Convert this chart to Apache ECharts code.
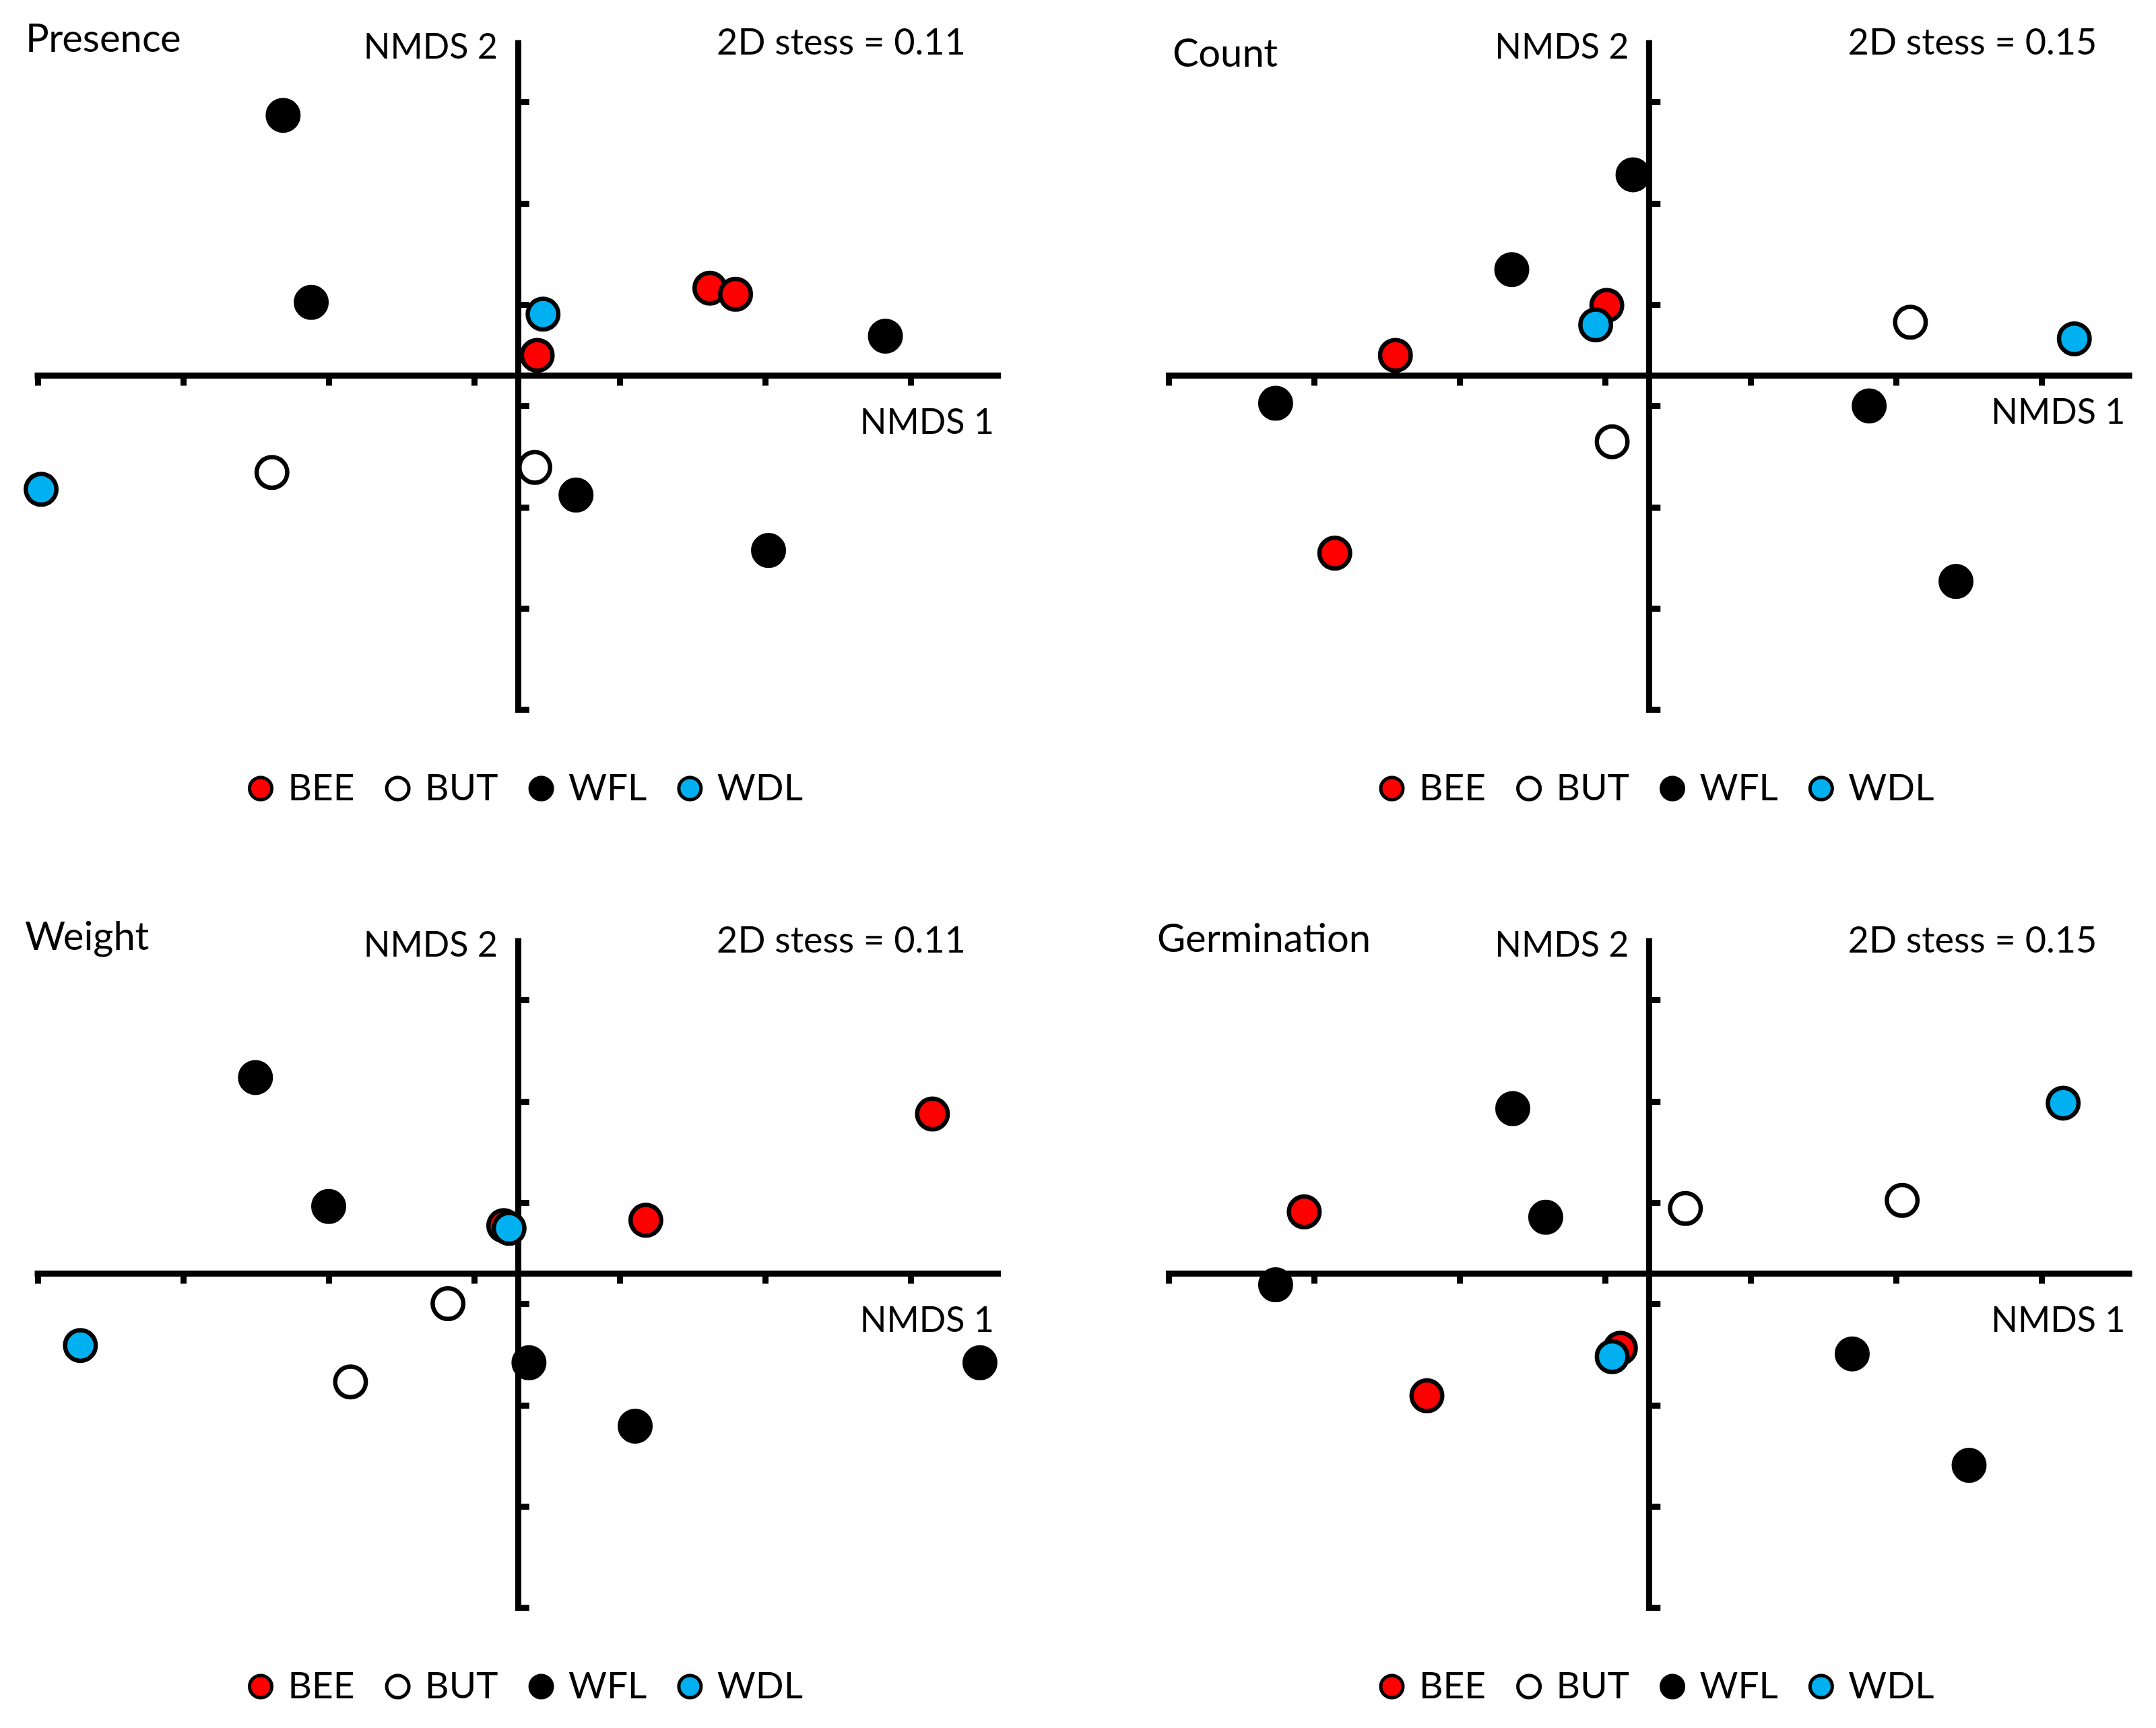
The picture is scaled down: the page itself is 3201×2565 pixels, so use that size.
<!DOCTYPE html>
<html><head><meta charset="utf-8">
<script src="https://cdn.jsdelivr.net/npm/echarts@6/dist/echarts.min.js"></script>
<style>html,body{margin:0;padding:0;background:#fff}#c{width:3201px;height:2565px}</style>
</head><body><div id="c"></div>
<script>
// ---------- data ----------
const groups = ['BEE', 'BUT', 'WFL', 'WDL'];
const panelNames = ['Presence', 'Count', 'Weight', 'Germination'];
const stressLabels = ['2D stess = 0.11', '2D stess = 0.15', '2D stess = 0.11', '2D stess = 0.15'];
const axisNames = ['NMDS 1', 'NMDS 2'];
const xTicks = [-0.99, -0.69, -0.39, -0.09, 0.21, 0.51, 0.81];
const yTicks = [-0.99, -0.69, -0.39, -0.09, 0.21, 0.51, 0.81];

const presenceBEE = [[0.396, 0.259], [0.449, 0.241], [0.040, 0.060]];
const presenceBUT = [[-0.507, -0.287], [0.035, -0.272]];
const presenceWFL = [[-0.484, 0.771], [-0.426, 0.217], [0.758, 0.117], [0.120, -0.354], [0.517, -0.518]];
const presenceWDL = [[-0.983, -0.337], [0.052, 0.182]];

const countBEE = [[-0.087, 0.208], [-0.523, 0.060], [-0.648, -0.526]];
const countBUT = [[0.539, 0.158], [-0.076, -0.196]];
const countWFL = [[-0.033, 0.595], [-0.283, 0.314], [-0.770, -0.082], [0.454, -0.090], [0.633, -0.610]];
const countWDL = [[-0.110, 0.150], [0.877, 0.109]];

const weightBEE = [[-0.029, 0.142], [0.264, 0.158], [0.855, 0.473]];
const weightBUT = [[-0.144, -0.089], [-0.345, -0.321]];
const weightWFL = [[-0.541, 0.581], [-0.390, 0.199], [0.023, -0.264], [0.242, -0.452], [0.953, -0.264]];
const weightWDL = [[-0.902, -0.213], [-0.018, 0.134]];

const germinationBEE = [[-0.711, 0.183], [-0.458, -0.362], [-0.059, -0.221]];
const germinationBUT = [[0.075, 0.193], [0.522, 0.217]];
const germinationWFL = [[-0.281, 0.489], [-0.213, 0.167], [-0.770, -0.033], [0.419, -0.238], [0.660, -0.568]];
const germinationWDL = [[0.854, 0.505], [-0.076, -0.246]];

const panelData = [
  [presenceBEE, presenceBUT, presenceWFL, presenceWDL],
  [countBEE, countBUT, countWFL, countWDL],
  [weightBEE, weightBUT, weightWFL, weightWDL],
  [germinationBEE, germinationBUT, germinationWFL, germinationWDL]
];

// ---------- style / layout ----------
const colors = ['#FF0000', '#FFFFFF', '#000000', '#00B0F0'];
const FONT = 'Lato';
const FS_TITLE = 58, FS_AXIS = 52, FS_STRESS = 54, FS_LEGEND = 55;
const gridPos = [
  {left: 56, top: 64},
  {left: 1735.5, top: 64},
  {left: 56, top: 1397},
  {left: 1735.5, top: 1397}
];
const GW = 1425.6, GH = 989.5;

const grids = [], xAxes = [], yAxes = [], series = [], legends = [], texts = [];
gridPos.forEach((g, p) => {
  grids.push({left: g.left, top: g.top, width: GW, height: GH, containLabel: false});
  xAxes.push({
    gridIndex: p, type: 'value', min: -0.99, max: 0.99,
    axisLine: {show: true, onZero: true, lineStyle: {color: '#000', width: 9, cap: 'square'}},
    axisTick: {show: true, inside: false, length: 15, customValues: xTicks, lineStyle: {color: '#000', width: 9}},
    axisLabel: {show: false}, splitLine: {show: false}
  });
  yAxes.push({
    gridIndex: p, type: 'value', min: -0.99, max: 0.985,
    axisLine: {show: true, onZero: true, lineStyle: {color: '#000', width: 9, cap: 'square'}},
    axisTick: {show: true, inside: true, length: 17, customValues: yTicks, lineStyle: {color: '#000', width: 9}},
    axisLabel: {show: false}, splitLine: {show: false}
  });
  groups.forEach((name, k) => {
    series.push({
      type: 'scatter', name: name, xAxisIndex: p, yAxisIndex: p,
      data: panelData[p][k], symbol: 'circle', symbolSize: 45.5,
      itemStyle: {color: colors[k], borderColor: '#000', borderWidth: 6.5, opacity: 1},
      emphasis: {disabled: true}, z: 3 + k
    });
  });
  legends.push({
    data: groups, left: g.left + 312, top: g.top + 1107 - 28, padding: 0,
    icon: 'circle', itemWidth: 33, itemHeight: 33, itemGap: 45,
    selectedMode: false,
    itemStyle: {borderColor: '#000', borderWidth: 5},
    textStyle: {fontFamily: FONT, fontSize: FS_LEGEND, color: '#000', padding: [0, 0, 0, 19]}
  });
  const dx = g.left - 56, dy = g.top - 64;
  const titleY = [58.5, 80.7, 58.5, 61.5][p];
  const titleX = [38, 1741 - 1679.5, 37, 1718 - 1679.5][p];
  const n1Y = [627, 612.5, 627, 627][p];
  texts.push(
    {type: 'text', x: titleX + dx, y: titleY + dy, style: {text: panelNames[p], font: FS_TITLE + 'px ' + FONT, fill: '#000', textAlign: 'left', textVerticalAlign: 'middle'}},
    {type: 'text', x: 739 + dx, y: 70 + dy, style: {text: axisNames[1], font: FS_AXIS + 'px ' + FONT, fill: '#000', textAlign: 'right', textVerticalAlign: 'middle'}},
    {type: 'text', x: 1249 + dx, y: 64 + dy, style: {text: stressLabels[p], font: FS_STRESS + 'px ' + FONT, fill: '#000', textAlign: 'center', textVerticalAlign: 'middle'}},
    {type: 'text', x: 1476 + dx, y: n1Y + dy, style: {text: axisNames[0], font: FS_AXIS + 'px ' + FONT, fill: '#000', textAlign: 'right', textVerticalAlign: 'middle'}}
  );
});

const chart = echarts.init(document.getElementById('c'), null, {renderer: 'canvas'});
chart.setOption({
  animation: false,
  backgroundColor: '#fff',
  grid: grids, xAxis: xAxes, yAxis: yAxes, series: series, legend: legends,
  graphic: {elements: texts}
});
</script></body></html>
